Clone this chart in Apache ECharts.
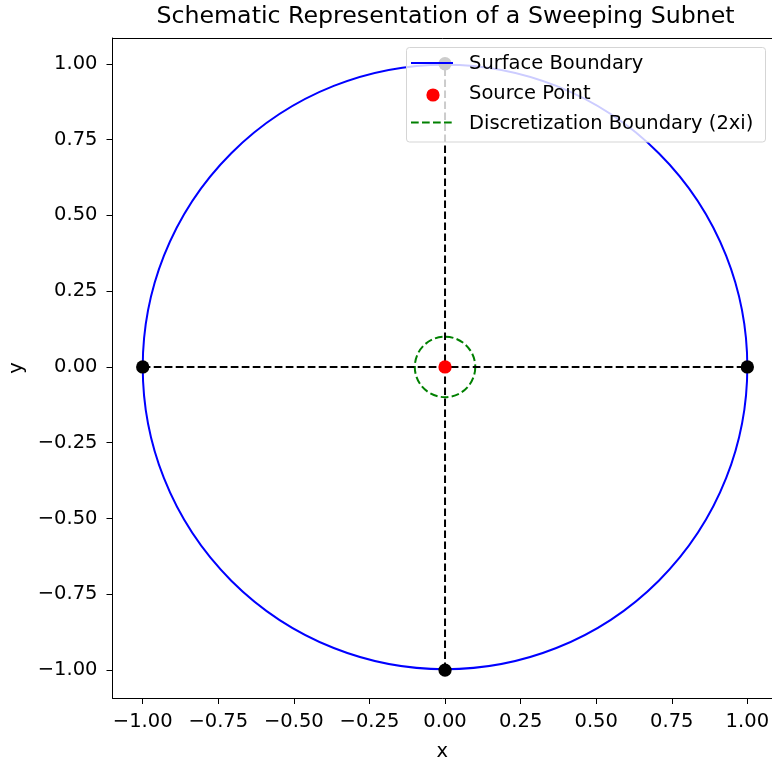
<!DOCTYPE html>
<html>
<head>
<meta charset="utf-8">
<script src="https://cdn.jsdelivr.net/npm/echarts@6/dist/echarts.min.js"></script>
<style>html,body{margin:0;padding:0;background:#fff}#chart{width:772px;height:762px}</style>
</head>
<body>
<div id="chart"></div>
<script>
// ---- data ----
const titleText = 'Schematic Representation of a Sweeping Subnet';
const xTicks = [-1.0, -0.75, -0.5, -0.25, 0.0, 0.25, 0.5, 0.75, 1.0];
const yTicks = [-1.0, -0.75, -0.5, -0.25, 0.0, 0.25, 0.5, 0.75, 1.0];
const surfaceCircle = [[0, 0, 1.0]];          // cx, cy, radius
const discretizationCircle = [[0, 0, 0.1]];   // cx, cy, radius
const sourcePoint = [[0, 0]];
const boundaryPoints = [[-1, 0], [1, 0], [0, -1], [0, 1]];
const horizontalLine = [[-1, 0], [1, 0]];
const verticalLine = [[0, -1], [0, 1]];
const legendNames = ['Surface Boundary', 'Source Point', 'Discretization Boundary (2xi)'];

const FONT = 'DejaVu Sans';
const FS = 19.5;
const LW = 2;
const DASH = [7.7, 3.3];
const fmt = v => v.toFixed(2).replace('-', '\u2212');

function circleRenderer(color, dash) {
  return function (params, api) {
    const c = api.coord([api.value(0), api.value(1)]);
    const r = api.size([api.value(2), 0])[0];
    return {
      type: 'circle',
      shape: { cx: c[0], cy: c[1], r: r },
      style: { fill: 'none', stroke: color, lineWidth: LW, lineDash: dash || null }
    };
  };
}

const axisCommon = {
  axisLine: { show: true, onZero: false, lineStyle: { color: '#000', width: 1 } },
  splitLine: { show: false }
};

const chart = echarts.init(document.getElementById('chart'), null, { renderer: 'canvas' });
const option = {
  animation: false,
  backgroundColor: '#fff',
  textStyle: { fontFamily: FONT },
  grid: { left: 112.5, top: 38, width: 659.5, height: 660, show: false, containLabel: false, outerBoundsMode: 'none' },
  xAxis: [{
    type: 'value', min: -1.1, max: 1.0816,
    name: 'x', nameLocation: 'middle', nameGap: 44,
    nameTextStyle: { fontFamily: FONT, fontSize: FS, color: '#000' },
    axisLine: axisCommon.axisLine, splitLine: axisCommon.splitLine,
    axisTick: { show: true, inside: false, length: 6, lineStyle: { color: '#000', width: 1 }, customValues: xTicks },
    axisLabel: { show: true, margin: 14, color: '#000', fontFamily: FONT, fontSize: FS, customValues: xTicks, formatter: fmt }
  }, {
    type: 'value', min: -1.1, max: 1.0816, position: 'top',
    axisLine: axisCommon.axisLine, splitLine: axisCommon.splitLine,
    axisTick: { show: false }, axisLabel: { show: false }
  }],
  yAxis: {
    type: 'value', min: -1.092, max: 1.085,
    name: 'y', nameLocation: 'middle', nameGap: 82,
    nameTextStyle: { fontFamily: FONT, fontSize: FS, color: '#000' },
    axisLine: axisCommon.axisLine, splitLine: axisCommon.splitLine,
    axisTick: { show: true, inside: false, length: 6, lineStyle: { color: '#000', width: 1 }, customValues: yTicks },
    axisLabel: { show: true, margin: 15, color: '#000', fontFamily: FONT, fontSize: FS, customValues: yTicks, formatter: fmt }
  },
  series: [
    { name: legendNames[0], type: 'custom', data: surfaceCircle, renderItem: circleRenderer('#0000ff'), itemStyle: { color: '#0000ff' }, z: 2 },
    { name: legendNames[2], type: 'custom', data: discretizationCircle, renderItem: circleRenderer('#008000', DASH), itemStyle: { color: '#008000' }, z: 3 },
    { type: 'line', data: horizontalLine, symbol: 'none', lineStyle: { color: '#000', width: LW, type: DASH }, z: 4 },
    { type: 'line', data: verticalLine, symbol: 'none', lineStyle: { color: '#000', width: LW, type: DASH }, z: 4 },
    { type: 'scatter', data: boundaryPoints, symbol: 'circle', symbolSize: 13.3, itemStyle: { color: '#000', opacity: 1 }, z: 5 },
    { name: legendNames[1], type: 'scatter', data: sourcePoint, symbol: 'circle', symbolSize: 13.3, itemStyle: { color: '#ff0000', opacity: 1 }, z: 6 }
  ],
  graphic: [
    { type: 'text', x: 445.5, y: 17, z: 100, style: { text: titleText, font: '23.7px "DejaVu Sans"', fill: '#000', textAlign: 'center', textVerticalAlign: 'middle' } },
    { type: 'rect', z: 100, shape: { x: 406.5, y: 47.5, width: 359, height: 94.5, r: 3 }, style: { fill: 'rgba(255,255,255,0.8)', stroke: '#d5d5d5', lineWidth: 1 } },
    { type: 'line', z: 101, shape: { x1: 411, y1: 63, x2: 453, y2: 63 }, style: { stroke: '#0000ff', lineWidth: LW } },
    { type: 'circle', z: 101, shape: { cx: 433, cy: 95, r: 6.6 }, style: { fill: '#ff0000' } },
    { type: 'line', z: 101, shape: { x1: 411, y1: 122.5, x2: 453, y2: 122.5 }, style: { stroke: '#008000', lineWidth: LW, lineDash: DASH } },
    { type: 'text', z: 101, x: 469, y: 64, style: { text: legendNames[0], font: FS + 'px "DejaVu Sans"', fill: '#000', textVerticalAlign: 'middle' } },
    { type: 'text', z: 101, x: 469, y: 94, style: { text: legendNames[1], font: FS + 'px "DejaVu Sans"', fill: '#000', textVerticalAlign: 'middle' } },
    { type: 'text', z: 101, x: 469, y: 124, style: { text: legendNames[2], font: FS + 'px "DejaVu Sans"', fill: '#000', textVerticalAlign: 'middle' } }
  ]
};
chart.setOption(option);
</script>
</body>
</html>
